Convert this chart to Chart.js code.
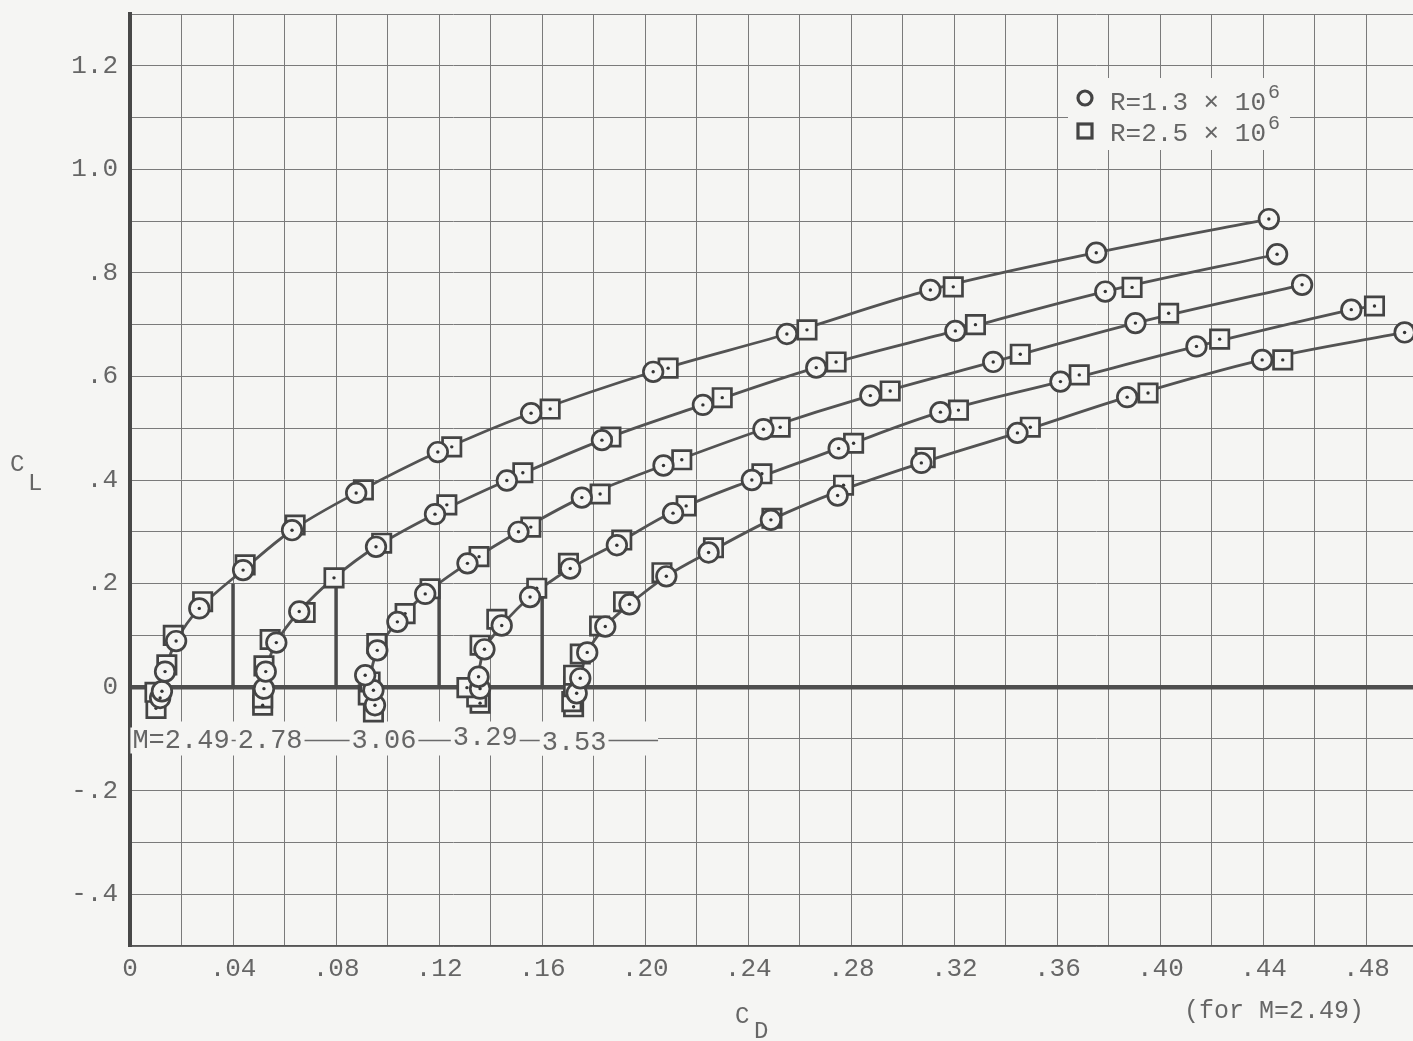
<!DOCTYPE html>
<html>
<head>
<meta charset="utf-8">
<title>Drag polars, C_L vs C_D</title>
<script src="https://cdn.jsdelivr.net/npm/chart.js@4.4.1/dist/chart.umd.min.js"></script>
<style>
  html, body { margin: 0; padding: 0; background: #f5f5f3; overflow: hidden; }
  canvas { display: block; }
</style>
</head>
<body>
<canvas id="polar" width="1418" height="1041" style="width:1418px;height:1041px"></canvas>
<script>
// Mach numbers of the five polars; each polar after the first is moved 0.04 to the right in C_D
const machNumbers = ['2.49', '2.78', '3.06', '3.29', '3.53'];
const cdShift = [0, 0.04, 0.08, 0.12, 0.16];

// [C_D, C_L] test points, R = 1.3 x 10^6 (circles)
const circles249 = [[0.0117,-0.021],[0.0124,-0.008],[0.0136,0.030],[0.0179,0.089],[0.0269,0.152],[0.0439,0.226],[0.0629,0.303],[0.0878,0.375],[0.1195,0.454],[0.1557,0.529],[0.2031,0.609],[0.2550,0.682],[0.3107,0.767],[0.3751,0.839],[0.4421,0.904]];
const circles278 = [[0.0120,-0.003],[0.0127,0.030],[0.0168,0.086],[0.0257,0.146],[0.0555,0.271],[0.0784,0.334],[0.1063,0.399],[0.1432,0.477],[0.1824,0.545],[0.2264,0.617],[0.2804,0.688],[0.3386,0.764],[0.4053,0.836]];
const circles306 = [[0.0151,-0.035],[0.0145,-0.006],[0.0113,0.023],[0.0160,0.071],[0.0238,0.126],[0.0346,0.180],[0.0510,0.239],[0.0708,0.300],[0.0954,0.366],[0.1271,0.428],[0.1659,0.498],[0.2074,0.563],[0.2551,0.628],[0.3103,0.703],[0.3750,0.777]];
const circles329 = [[0.0159,-0.003],[0.0153,0.020],[0.0176,0.073],[0.0243,0.119],[0.0353,0.174],[0.0509,0.229],[0.0690,0.274],[0.0908,0.336],[0.1214,0.400],[0.1551,0.461],[0.1946,0.531],[0.2412,0.590],[0.2940,0.658],[0.3541,0.729]];
const circles353 = [[0.0134,-0.012],[0.0148,0.017],[0.0175,0.067],[0.0245,0.117],[0.0339,0.160],[0.0482,0.214],[0.0646,0.260],[0.0888,0.323],[0.1147,0.370],[0.1472,0.433],[0.1845,0.491],[0.2271,0.560],[0.2795,0.632],[0.3348,0.685]];

// [C_D, C_L] test points, R = 2.5 x 10^6 (squares)
const squares249 = [[0.0101,-0.041],[0.0097,-0.010],[0.0143,0.043],[0.0168,0.100],[0.0282,0.165],[0.0447,0.236],[0.0641,0.313],[0.0906,0.381],[0.1249,0.464],[0.1631,0.537],[0.2089,0.616],[0.2628,0.690],[0.3196,0.773]];
const squares278 = [[0.0115,-0.035],[0.0115,-0.021],[0.0120,0.041],[0.0144,0.092],[0.0280,0.144],[0.0392,0.211],[0.0577,0.278],[0.0830,0.352],[0.1125,0.414],[0.1467,0.483],[0.1899,0.559],[0.2341,0.628],[0.2882,0.700],[0.3490,0.772]];
const squares306 = [[0.0145,-0.048],[0.0125,-0.015],[0.0132,0.010],[0.0158,0.084],[0.0268,0.142],[0.0365,0.190],[0.0555,0.252],[0.0756,0.309],[0.1025,0.373],[0.1342,0.439],[0.1724,0.502],[0.2151,0.572],[0.2656,0.643],[0.3232,0.722]];
const squares329 = [[0.0159,-0.031],[0.0146,-0.019],[0.0108,-0.001],[0.0159,0.081],[0.0224,0.131],[0.0379,0.191],[0.0502,0.239],[0.0709,0.284],[0.0959,0.350],[0.1253,0.412],[0.1609,0.471],[0.2016,0.535],[0.2485,0.603],[0.3030,0.672],[0.3631,0.736]];
const squares353 = [[0.0122,-0.038],[0.0115,-0.028],[0.0122,0.001],[0.0122,0.023],[0.0148,0.064],[0.0223,0.118],[0.0316,0.165],[0.0465,0.221],[0.0665,0.269],[0.0892,0.326],[0.1170,0.390],[0.1487,0.443],[0.1895,0.502],[0.2352,0.568],[0.2875,0.632]];

// faired curves, [C_D, C_L]
const fair249 = [[0.0110,-0.035],[0.0136,0.030],[0.0179,0.089],[0.0269,0.152],[0.0439,0.226],[0.0629,0.303],[0.0878,0.375],[0.1195,0.454],[0.1557,0.529],[0.2031,0.609],[0.2550,0.682],[0.3107,0.767],[0.3751,0.839],[0.4421,0.904]];
const fair278 = [[0.0118,-0.030],[0.0127,0.030],[0.0168,0.086],[0.0257,0.146],[0.0392,0.211],[0.0555,0.271],[0.0784,0.334],[0.1063,0.399],[0.1432,0.477],[0.1824,0.545],[0.2264,0.617],[0.2804,0.688],[0.3386,0.764],[0.4053,0.836]];
const fair306 = [[0.0140,-0.040],[0.0132,0.010],[0.0160,0.071],[0.0238,0.126],[0.0346,0.180],[0.0510,0.239],[0.0708,0.300],[0.0954,0.366],[0.1271,0.428],[0.1659,0.498],[0.2074,0.563],[0.2551,0.628],[0.3103,0.703],[0.3750,0.777]];
const fair329 = [[0.0150,-0.030],[0.0152,0.020],[0.0176,0.073],[0.0243,0.119],[0.0353,0.174],[0.0509,0.229],[0.0695,0.279],[0.0915,0.340],[0.1214,0.400],[0.1551,0.461],[0.1946,0.531],[0.2412,0.590],[0.2940,0.658],[0.3541,0.729],[0.3631,0.736]];
const fair353 = [[0.0125,-0.035],[0.0148,0.017],[0.0175,0.067],[0.0245,0.117],[0.0339,0.160],[0.0482,0.214],[0.0646,0.260],[0.0888,0.323],[0.1150,0.378],[0.1472,0.433],[0.1845,0.491],[0.2271,0.560],[0.2795,0.632],[0.3348,0.685]];

// axis tick labels (every second grid line)
const xTickLabels = ['0', '.04', '.08', '.12', '.16', '.20', '.24', '.28', '.32', '.36', '.40', '.44', '.48'];
const yTickLabels = ['-.4', '-.2', '0', '.2', '.4', '.6', '.8', '1.0', '1.2'];

// legend entries: text before the exponent, exponent
const legendText = ['R=1.3 \u00d7 10', 'R=2.5 \u00d7 10'];
const legendExp = ['6', '6'];

const circleSets = [circles249, circles278, circles306, circles329, circles353];
const squareSets = [squares249, squares278, squares306, squares329, squares353];
const fairSets = [fair249, fair278, fair306, fair329, fair353];

// ---- styling ----
const PAPER = '#f5f5f3';
const INK = '#444444';
const GRID = '#7a7a7a';
const TEXT = '#666666';
const MONO = '"Liberation Mono", "DejaVu Sans Mono", monospace';

const shifted = (pts, s) => pts.map(([cd, cl]) => ({ x: cd + s, y: cl }));

const datasets = [];
fairSets.forEach((pts, i) => datasets.push({
  type: 'line', label: 'M=' + machNumbers[i], data: shifted(pts, cdShift[i]),
  showLine: true, borderColor: '#535353', borderWidth: 2.8, pointRadius: 0,
  tension: 0.35, fill: false, order: 3
}));
squareSets.forEach((pts, i) => datasets.push({
  type: 'scatter', label: 'R=2.5e6 M=' + machNumbers[i], data: shifted(pts, cdShift[i]),
  pointStyle: 'rect', pointRadius: 13, pointBorderWidth: 2.7,
  pointBackgroundColor: PAPER, pointBorderColor: INK, centerDot: true, order: 2
}));
circleSets.forEach((pts, i) => datasets.push({
  type: 'scatter', label: 'R=1.3e6 M=' + machNumbers[i], data: shifted(pts, cdShift[i]),
  pointStyle: 'circle', pointRadius: 9.8, pointBorderWidth: 2.7,
  pointBackgroundColor: PAPER, pointBorderColor: INK, centerDot: true, order: 1
}));

// small dot in the middle of every data symbol
const centerDots = {
  id: 'centerDots',
  afterDatasetDraw(chart, args) {
    const ds = chart.data.datasets[args.index];
    if (!ds.centerDot) return;
    const ctx = chart.ctx;
    ctx.save();
    ctx.fillStyle = '#333';
    args.meta.data.forEach(el => {
      ctx.beginPath();
      ctx.arc(el.x, el.y, 1.7, 0, Math.PI * 2);
      ctx.fill();
    });
    ctx.restore();
  }
};

const align = (p, w) => Math.round(p - w / 2) + w / 2;

// zero marks of the shifted polars, Mach number strip and legend
const paperNotes = {
  id: 'paperNotes',
  beforeDatasetsDraw(chart) {
    const { ctx, chartArea: a } = chart;
    const x = chart.scales.x, y = chart.scales.y;
    ctx.save();

    // origin of each shifted polar
    ctx.strokeStyle = '#4b4b4b';
    ctx.lineWidth = 3.5;
    cdShift.slice(1).forEach(s => {
      const px = x.getPixelForValue(s);
      ctx.beginPath();
      ctx.moveTo(px, y.getPixelForValue(0));
      ctx.lineTo(px, y.getPixelForValue(0.2));
      ctx.stroke();
    });

    // Mach number strip along the C_L = -.1 line
    const rowY = align(y.getPixelForValue(-0.1), 1);
    const stripEnd = x.getPixelForValue(0.205);
    ctx.fillStyle = PAPER;
    ctx.fillRect(a.left + 3, rowY - 17, stripEnd - a.left - 3, 34);
    ctx.strokeStyle = '#6a6a6a';
    ctx.lineWidth = 1.3;
    ctx.beginPath();
    ctx.moveTo(a.left + 3, rowY + 2);
    ctx.lineTo(stripEnd, rowY + 2);
    ctx.stroke();

    const labelAt = [0.0198, 0.0544, 0.0986, 0.1379, 0.1724];
    const labelLift = [2, 2, 2, -1, 4];
    ctx.font = '27px ' + MONO;
    ctx.textAlign = 'center';
    ctx.textBaseline = 'middle';
    machNumbers.forEach((m, i) => {
      const t = (i === 0 ? 'M=' : '') + m;
      const cx = x.getPixelForValue(labelAt[i]);
      const cy = rowY + labelLift[i];
      const w = ctx.measureText(t).width + 4;
      ctx.fillStyle = PAPER;
      ctx.fillRect(cx - w / 2, cy - 13, w, 26);
      ctx.fillStyle = TEXT;
      ctx.fillText(t, cx, cy);
    });

    // legend
    const lx = a.left + 938, ly = a.top + 64;
    ctx.fillStyle = PAPER;
    ctx.fillRect(lx, ly, 222, 72);
    ctx.strokeStyle = '#444';
    ctx.lineWidth = 3.2;
    ctx.beginPath();
    ctx.arc(lx + 17, ly + 20, 7, 0, Math.PI * 2);
    ctx.stroke();
    ctx.strokeRect(lx + 10, ly + 46, 14, 14);
    ctx.textAlign = 'left';
    ctx.textBaseline = 'alphabetic';
    ctx.fillStyle = TEXT;
    legendText.forEach((t, i) => {
      const base = ly + 32 + i * 31;
      ctx.font = '26px ' + MONO;
      ctx.fillText(t, lx + 42, base);
      const w = ctx.measureText(t).width;
      ctx.font = '20px ' + MONO;
      ctx.fillText(legendExp[i], lx + 44 + w, base - 12);
    });
    ctx.restore();
  },
  afterDraw(chart) {
    const ctx = chart.ctx;
    ctx.save();
    ctx.fillStyle = TEXT;
    ctx.textAlign = 'left';
    ctx.textBaseline = 'alphabetic';
    ctx.font = '24px ' + MONO;
    // C_L
    ctx.fillText('C', 10, 471);
    ctx.fillText('L', 28, 490);
    // C_D
    ctx.fillText('C', 735, 1023);
    ctx.fillText('D', 754, 1038);
    ctx.font = '25px ' + MONO;
    ctx.fillText('(for M=2.49)', 1184, 1018);
    ctx.restore();
  }
};

// keep the plot frame where the layout puts it: no extra room for end labels
const noEdgePadding = s => {
  s.paddingTop = 0; s.paddingBottom = 0; s.paddingLeft = 0; s.paddingRight = 0;
};

new Chart(document.getElementById('polar'), {
  type: 'scatter',
  data: { datasets },
  options: {
    responsive: false,
    animation: false,
    devicePixelRatio: 1,
    layout: { autoPadding: false, padding: { top: 14, left: 0, right: 0, bottom: 0 } },
    plugins: { legend: { display: false }, tooltip: { enabled: false } },
    scales: {
      x: {
        type: 'linear', min: 0, max: 0.5,
        afterFit: s => { s.height = 95; noEdgePadding(s); },
        grid: { color: GRID, lineWidth: 1, drawTicks: false },
        border: { color: '#555', width: 1.6 },
        ticks: {
          stepSize: 0.02, autoSkip: false, maxRotation: 0, padding: 10,
          color: TEXT, font: { family: MONO, size: 26, lineHeight: 1 },
          callback: (v, i) => (i % 2 === 0 && i / 2 < xTickLabels.length ? xTickLabels[i / 2] : '')
        }
      },
      y: {
        type: 'linear', min: -0.5, max: 1.3,
        afterFit: s => { s.width = 130; noEdgePadding(s); },
        grid: {
          drawTicks: false,
          color: c => (c.tick && Math.abs(c.tick.value) < 1e-9 ? '#4e4e4e' : GRID),
          lineWidth: c => (c.tick && Math.abs(c.tick.value) < 1e-9 ? 4.5 : 1)
        },
        border: { color: '#484848', width: 4 },
        ticks: {
          stepSize: 0.1, autoSkip: false, padding: 12,
          color: TEXT, font: { family: MONO, size: 26, lineHeight: 1 },
          callback: (v, i) => (i % 2 === 1 ? yTickLabels[(i - 1) / 2] : '')
        }
      }
    }
  },
  plugins: [centerDots, paperNotes]
});
</script>
</body>
</html>
